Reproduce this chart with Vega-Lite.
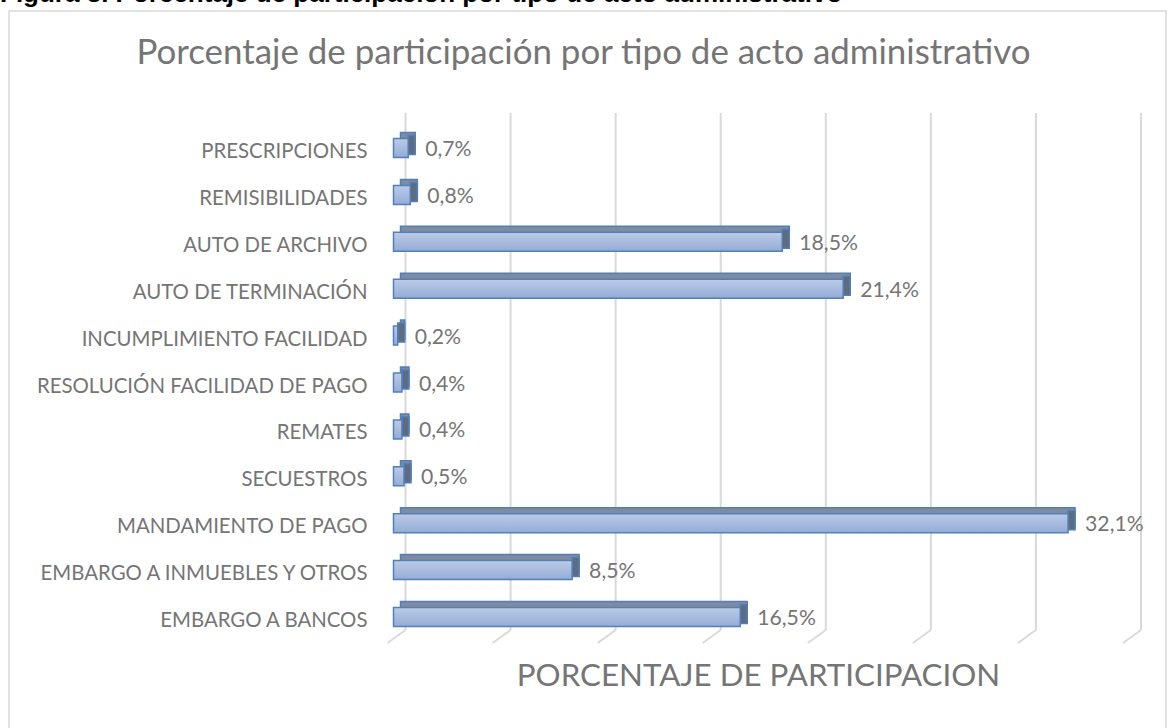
{
  "$schema": "https://vega.github.io/schema/vega-lite/v6.json",
  "width": 1157,
  "height": 722,
  "autosize": "none",
  "padding": {"left": 9, "top": 11, "right": 10, "bottom": 0},
  "background": "white",
  "config": {
    "view": {"stroke": "#d9d9d9", "strokeWidth": 1.5},
    "locale": {"number": {"decimal": ",", "thousands": ".", "grouping": [3], "currency": ["", " €"]}}
  },
  "title": {
    "text": "Figura 3. Porcentaje de participación por tipo de acto administrativo",
    "anchor": "start",
    "frame": "group",
    "dx": -9,
    "offset": -17,
    "baseline": "alphabetic",
    "font": "Liberation Sans",
    "fontSize": 26,
    "fontWeight": "bold",
    "color": "#000000"
  },
  "datasets": {
    "bars": [
      {"cat": "PRESCRIPCIONES", "value": 0.007},
      {"cat": "REMISIBILIDADES", "value": 0.008},
      {"cat": "AUTO DE ARCHIVO", "value": 0.185},
      {"cat": "AUTO DE TERMINACIÓN", "value": 0.214},
      {"cat": "INCUMPLIMIENTO FACILIDAD", "value": 0.002},
      {"cat": "RESOLUCIÓN FACILIDAD DE PAGO", "value": 0.004},
      {"cat": "REMATES", "value": 0.004},
      {"cat": "SECUESTROS", "value": 0.005},
      {"cat": "MANDAMIENTO DE PAGO", "value": 0.321},
      {"cat": "EMBARGO A INMUEBLES Y OTROS", "value": 0.085},
      {"cat": "EMBARGO A BANCOS", "value": 0.165}
    ],
    "grid": [
      {"value": 0}, {"value": 0.05}, {"value": 0.1}, {"value": 0.15}, {"value": 0.2}, {"value": 0.25}, {"value": 0.3}, {"value": 0.35}
    ]
  },
  "layer": [
    {
      "data": {"name": "grid"},
      "mark": {"type": "rule", "color": "#d9d9d9", "strokeWidth": 2, "xOffset": 12, "yOffset": -35, "y2Offset": 13},
      "encoding": {
        "x": {"field": "value", "type": "quantitative",
              "scale": {"domain": [0, 0.35], "range": [384.5, 1120], "nice": false, "zero": true}},
        "y": {"datum": "PRESCRIPCIONES", "type": "nominal"},
        "y2": {"datum": "EMBARGO A BANCOS"}
      }
    },
    {
      "data": {"name": "grid"},
      "mark": {"type": "rule", "color": "#d9d9d9", "strokeWidth": 2, "xOffset": 12, "x2Offset": -6, "yOffset": 13, "y2Offset": 26},
      "encoding": {
        "x": {"field": "value", "type": "quantitative"},
        "x2": {"field": "value"},
        "y": {"datum": "EMBARGO A BANCOS", "type": "nominal"},
        "y2": {"datum": "EMBARGO A BANCOS"}
      }
    },
    {
      "data": {"name": "bars"},
      "mark": {"type": "bar", "size": 19, "fill": "#808b9d", "stroke": "#4f7fbd", "strokeWidth": 1.5, "xOffset": 7, "x2Offset": 7, "yOffset": -6},
      "encoding": {
        "x": {"field": "value", "type": "quantitative"},
        "y": {"field": "cat", "type": "nominal"}
      }
    },
    {
      "data": {"name": "bars"},
      "mark": {"type": "bar", "size": 19, "fill": "#5f6b7e", "stroke": "#4f7fbd", "strokeWidth": 1.5, "x2Offset": 7, "yOffset": -3},
      "encoding": {
        "x": {"field": "value", "type": "quantitative"},
        "x2": {"field": "value"},
        "y": {"field": "cat", "type": "nominal"}
      }
    },
    {
      "data": {"name": "bars"},
      "mark": {
        "type": "bar",
        "size": 19,
        "stroke": "#4f81bd",
        "strokeWidth": 1.5,
        "fill": {"gradient": "linear", "x1": 0, "y1": 0, "x2": 0, "y2": 1,
                 "stops": [{"offset": 0, "color": "#bccbe6"}, {"offset": 1, "color": "#93acd6"}]}
      },
      "encoding": {
        "x": {"field": "value", "type": "quantitative",
              "axis": {"orient": "bottom", "title": "PORCENTAJE DE PARTICIPACION", "labels": false, "ticks": false,
                       "domain": false, "grid": false, "titleFont": "Lato", "titleFontSize": 31.3,
                       "titleFontWeight": "normal", "titleColor": "#757575", "titleBaseline": "alphabetic", "titleY": -48, "titleX": 749}},
        "y": {"field": "cat", "type": "nominal",
              "scale": {"domain": ["PRESCRIPCIONES", "REMISIBILIDADES", "AUTO DE ARCHIVO", "AUTO DE TERMINACIÓN", "INCUMPLIMIENTO FACILIDAD", "RESOLUCIÓN FACILIDAD DE PAGO", "REMATES", "SECUESTROS", "MANDAMIENTO DE PAGO", "EMBARGO A INMUEBLES Y OTROS", "EMBARGO A BANCOS"],
                        "range": [113.55, 629.45], "paddingInner": 0, "paddingOuter": 0},
              "axis": {"orient": "left", "offset": -384.5, "domain": false, "ticks": false, "grid": false,
                       "labelFont": "Lato", "labelFontSize": 20.4, "labelColor": "#757575", "labelPadding": 26.5,
                       "labelLimit": 500, "labelOffset": 4,
                       "title": "Porcentaje de participación por tipo de acto administrativo",
                       "titleAngle": 0, "titleAlign": "center", "titleBaseline": "alphabetic",
                       "titleX": 189.5, "titleY": 52, "titleFont": "Lato", "titleFontSize": 34.9,
                       "titleFontWeight": "normal", "titleColor": "#757575"}}
      }
    },
    {
      "data": {"name": "bars"},
      "mark": {"type": "text", "align": "left", "baseline": "middle", "dx": 17, "dy": 2, "font": "Lato", "fontSize": 21.2, "color": "#757575"},
      "encoding": {
        "x": {"field": "value", "type": "quantitative"},
        "y": {"field": "cat", "type": "nominal"},
        "text": {"field": "value", "type": "quantitative", "format": ".1%"}
      }
    }
  ]
}
